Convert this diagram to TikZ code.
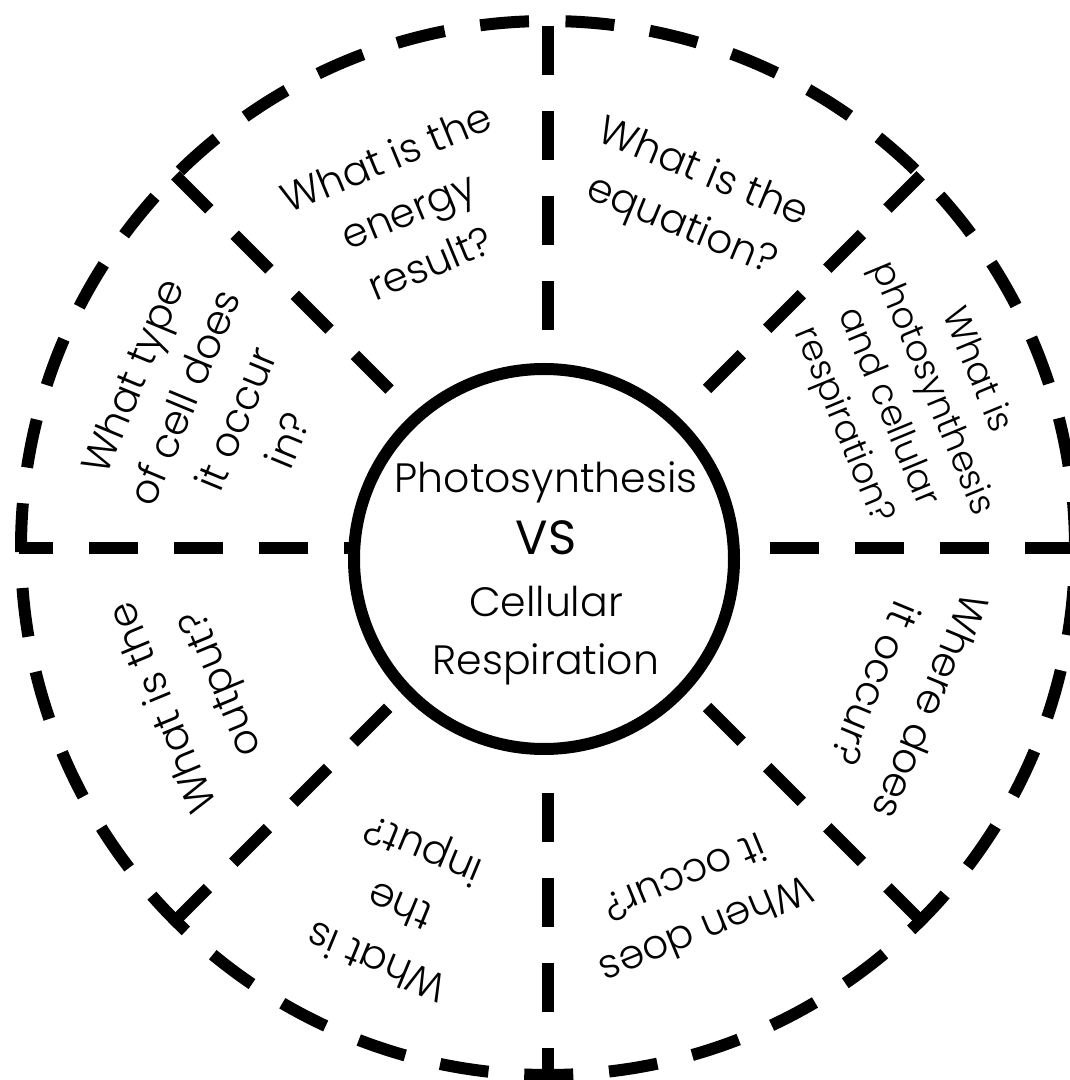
\documentclass[tikz,border=0pt]{standalone}
\usepackage{fontspec}
\IfFontExistsTF{Poppins Light}{\setmainfont{Poppins Light}}{\setmainfont{Poppins}}
\newfontfamily\vsfont{Poppins}
\begin{document}
\begin{tikzpicture}[x=1pt,y=1pt,
  ring/.style={line width=12pt, dash pattern=on 49pt off 35.9pt, dash phase=67.4pt},
  dl/.style={line width=12pt, dash pattern=on 49pt off 36pt},
  hub/.style={line width=12pt, fill=white},
  q/.style={align=center, font=\fontsize{40.5}{57}\selectfont, inner sep=0pt},
  ctext/.style={anchor=base, inner sep=0pt, font=\fontsize{41}{48}\selectfont},
]
\useasboundingbox (0,0) rectangle (1070,1080);
\coordinate (O) at (548,532);
% outer dashed ring, clockwise from the top
\draw[ring] (O) ++(90:527) arc[start angle=90, end angle=-270, radius=527];
% radial dashed lines
\foreach \a/\s/\l in {0/222/305, 90/218/305, 180/155/374, 270/245/286,
                      45/225/302, 135/224/303, 315/225/306, 225/226/306}{
  \draw[dl] (O) ++(\a:\s) -- ++(\a:\l);
}
% hub
\draw[hub] (544,521) circle[radius=190];
\node[ctext] (c1) at (546,587) {Photosynthesis};
\node[ctext, font=\vsfont\fontsize{48}{48}\selectfont] (c2) at (546,525) {VS};
\node[ctext] (c3) at (546,463) {Cellular};
\node[ctext] (c4) at (546,405) {Respiration};
% questions
\node[q, rotate=22.5] (q1) at ([shift={(112.5:366)}]O) {What is the\\energy\\result?};
\node[q, rotate=-22.5] (q2) at ([shift={(67.5:376)}]O) {What is the\\equation?};
\node[q, rotate=-67.5, font=\fontsize{36}{48}\selectfont] (q3) at ([shift={(22.5:391)}]O) {What is\\photosynthesis\\and cellular\\respiration?};
\node[q, rotate=67.5, font=\fontsize{40.5}{56}\selectfont] (q4) at ([shift={(157.5:366)}]O) {What type\\of cell does\\it occur\\in?};
\node[q, rotate=-112.5, font=\fontsize{40.5}{60}\selectfont] (q5) at ([shift={(-22.5:385)}]O) {Where does\\it occur?};
\node[q, rotate=-157.5] (q6) at ([shift={(-67.5:386)}]O) {When does\\it occur?};
\node[q, rotate=157.5, font=\fontsize{40.5}{60}\selectfont] (q7) at ([shift={(-112.5:384)}]O) {What is\\the\\input?};
\node[q, rotate=112.5, font=\fontsize{40.5}{62}\selectfont] (q8) at ([shift={(-157.5:383)}]O) {What is the\\output?};
\end{tikzpicture}
\end{document}
